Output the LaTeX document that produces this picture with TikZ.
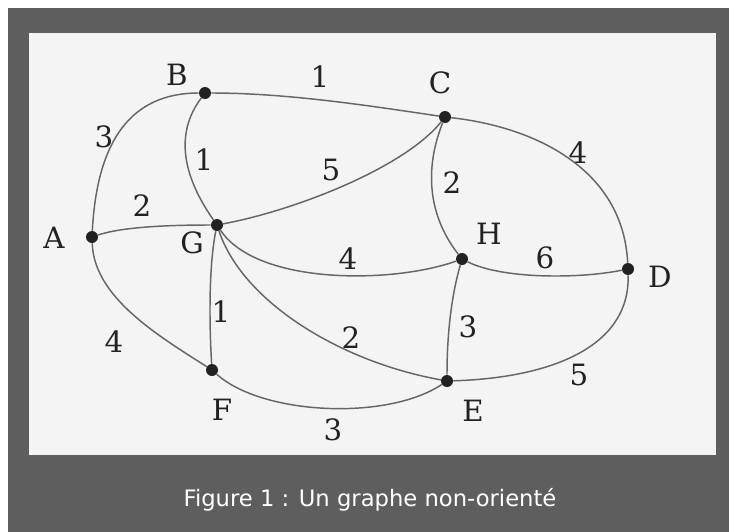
\documentclass[tikz,border=0pt]{standalone}
\usepackage{fontspec}
\newfontfamily\capfont{DejaVu Sans}
\newfontfamily\graphfont{DejaVu Serif}
\definecolor{FrameGray}{HTML}{5E5E5E}
\definecolor{PaperWhite}{HTML}{F4F4F4}
\definecolor{EdgeGray}{HTML}{666666}
\definecolor{InkDark}{HTML}{222222}

\begin{document}
\begin{tikzpicture}[x=0.75pt, y=-0.75pt,
        vertex/.style={circle, fill=InkDark, inner sep=0pt, minimum size=9pt},
        vname/.style={text=InkDark, inner sep=0pt, font=\graphfont\fontsize{22}{22}\selectfont},
        weight/.style={text=InkDark, inner sep=0pt, font=\graphfont\fontsize{22}{22}\selectfont},
        edge/.style={draw=EdgeGray, line width=1.1pt}]

        \fill[white] (0,0) rectangle (729,532);
        \fill[FrameGray] (8,8) rectangle (729,532);
        \fill[PaperWhite] (29,33) rectangle (716,455);

        \node[vertex] (A) at (92,237) {};
        \node[vertex] (B) at (205,93) {};
        \node[vertex] (C) at (445,117) {};
        \node[vertex] (D) at (628,269) {};
        \node[vertex] (E) at (447,381) {};
        \node[vertex] (F) at (212,370) {};
        \node[vertex] (G) at (217,225) {};
        \node[vertex] (H) at (462,259) {};

        \node[vname] (nA) at (54,238) {A};
        \node[vname] (nB) at (177,75) {B};
        \node[vname] (nC) at (440,83) {C};
        \node[vname] (nD) at (660,277) {D};
        \node[vname] (nE) at (473,411) {E};
        \node[vname] (nF) at (222,410) {F};
        \node[vname] (nG) at (192,243) {G};
        \node[vname] (nH) at (489,234) {H};

        \draw[edge] (A) .. controls +(5,-95) and +(-75,0) .. (B);
        \draw[edge] (B) .. controls +(80,0) and +(-80,-12) .. (C);
        \draw[edge] (B) .. controls +(-30,40) and +(-35,-50) .. (G);
        \draw[edge] (A) .. controls +(30,-10) and +(-50,0) .. (G);
        \draw[edge] (G) .. controls +(80,-15) and +(-40,50) .. (C);
        \draw[edge] (G) .. controls +(40,60) and +(-70,25) .. (H);
        \draw[edge] (G) .. controls +(-8,40) and +(-3,-50) .. (F);
        \draw[edge] (G) .. controls +(25,75) and +(-110,-20) .. (E);
        \draw[edge] (A) .. controls +(2,60) and +(-55,-35) .. (F);
        \draw[edge] (F) .. controls +(50,45) and +(-60,40) .. (E);
        \draw[edge] (C) .. controls +(-20,50) and +(-35,-45) .. (H);
        \draw[edge] (C) .. controls +(90,10) and +(-5,-100) .. (D);
        \draw[edge] (H) .. controls +(40,20) and +(-50,10) .. (D);
        \draw[edge] (H) .. controls +(-10,35) and +(0,-50) .. (E);
        \draw[edge] (E) .. controls +(100,-3) and +(2,80) .. (D);

        \node[weight] (wAB) at (104,137) {3};
        \node[weight] (wBC) at (320,77) {1};
        \node[weight] (wBG) at (204,160) {1};
        \node[weight] (wAG) at (142,206) {2};
        \node[weight] (wGC) at (331,170) {5};
        \node[weight] (wGH) at (348,259) {4};
        \node[weight] (wCH) at (452,183) {2};
        \node[weight] (wCD) at (578,153) {4};
        \node[weight] (wHD) at (545,258) {6};
        \node[weight] (wGF) at (221,312) {1};
        \node[weight] (wAF) at (114,342) {4};
        \node[weight] (wGE) at (351,338) {2};
        \node[weight] (wHE) at (468,327) {3};
        \node[weight] (wED) at (579,375) {5};
        \node[weight] (wFE) at (333,430) {3};

        \node[text=white, font=\capfont\fontsize{17}{17}\selectfont] (caption) at (370,500) {Figure 1 : Un graphe non-orienté};
    \end{tikzpicture}
\end{document}
